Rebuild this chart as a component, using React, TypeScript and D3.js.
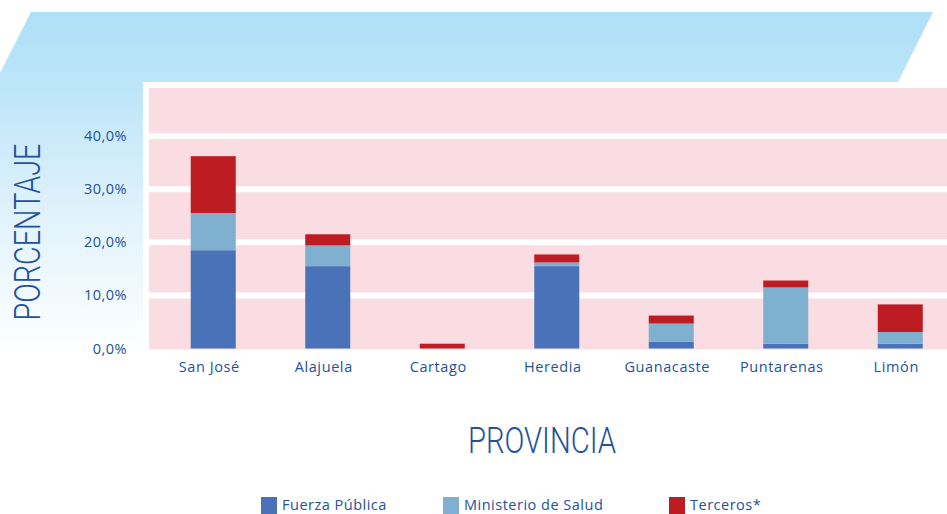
import React from "react";
import * as d3 from "d3";

const categories = ["San José", "Alajuela", "Cartago", "Heredia", "Guanacaste", "Puntarenas", "Limón"];
const fuerzaPublica = [18.5, 15.5, 0, 15.5, 1.3, 0.9, 0.9];
const ministerioSalud = [7.0, 3.9, 0, 0.7, 3.4, 10.6, 2.2];
const terceros = [10.7, 2.1, 0.9, 1.5, 1.5, 1.3, 5.2];
const seriesNames = ["Fuerza Pública", "Ministerio de Salud", "Terceros*"];
const seriesColors = ["#4a72b8", "#7fb0cf", "#bd1c23"];
const yTicks = [0, 10, 20, 30, 40];

const W = 947;
const H = 514;
const TEXT = "#24519b";

export default function App() {
  const x = d3.scaleBand<string>().domain(categories).range([156, 957.5]).paddingInner(0.607).paddingOuter(0.3035);
  const y = d3.scaleLinear().domain([0, 40]).range([348.5, 136]);
  const fmt = (v: number) => d3.format(".1f")(v).replace(".", ",") + "%";

  const rows = categories.map((c, i) => ({
    cat: c,
    fp: fuerzaPublica[i],
    ms: ministerioSalud[i],
    t: terceros[i],
  }));
  const stack = d3.stack<any>().keys(["fp", "ms", "t"])(rows);

  const legendX = [261, 443, 669];

  return (
    <svg width={W} height={H} style={{ position: "absolute", left: 0, top: 0 }} fontFamily="'Open Sans', sans-serif">
      <defs>
        <linearGradient id="bg" gradientUnits="userSpaceOnUse" x1="0" y1="12" x2="0" y2="360">
          <stop offset="0" stopColor="#ade0f7" />
          <stop offset="0.25" stopColor="#c0e6f9" />
          <stop offset="0.6" stopColor="#e2f3fc" />
          <stop offset="1" stopColor="#ffffff" />
        </linearGradient>
      </defs>
      <rect width={W} height={H} fill="#ffffff" />
      <polygon points="31,12 933,12 898,82 143,82 143,360 0,360 0,73" fill="url(#bg)" />
      <rect x={143} y={82} width={W - 143} height={280} fill="#ffffff" />
      <rect x={149} y={88} width={W - 149} height={349.5 - 88} fill="#f9dde2" />
      {yTicks.filter((t) => t > 0).map((t) => (
        <line key={t} x1={149} x2={W} y1={y(t)} y2={y(t)} stroke="#ffffff" strokeWidth={6} />
      ))}
      {stack.map((s, si) => (
        <g key={si} fill={seriesColors[si]}>
          {s.map((d: any, i: number) =>
            d[1] - d[0] > 0 ? (
              <rect key={i} x={x(categories[i])} width={x.bandwidth()} y={y(d[1])} height={y(d[0]) - y(d[1])} />
            ) : null
          )}
        </g>
      ))}
      {yTicks.map((t) => (
        <text key={t} x={127} y={y(t)} dy="0.35em" textAnchor="end" fontSize={14.5} fill={TEXT} letterSpacing={0.5}>
          {fmt(t)}
        </text>
      ))}
      {categories.map((c) => (
        <text key={c} x={(x(c) as number) + x.bandwidth() / 2 - 4} y={372} textAnchor="middle" fontSize={14.5} fill={TEXT} letterSpacing={0.6}>
          {c}
        </text>
      ))}
      <text x={542} y={453} textAnchor="middle" fontSize={36} fontFamily="Roboto, sans-serif" fontWeight={300} fill={TEXT} textLength={148} lengthAdjust="spacingAndGlyphs">
        PROVINCIA
      </text>
      <text transform="translate(40,232) rotate(-90)" textAnchor="middle" fontSize={37} fontFamily="Roboto, sans-serif" fontWeight={300} fill={TEXT} textLength={177} lengthAdjust="spacingAndGlyphs">
        PORCENTAJE
      </text>
      {seriesNames.map((n, i) => (
        <g key={n}>
          <rect x={legendX[i]} y={497} width={16} height={17} fill={seriesColors[i]} />
          <text x={legendX[i] + 21} y={510} fontSize={14.5} fill={TEXT} letterSpacing={0.5}>
            {n}
          </text>
        </g>
      ))}
    </svg>
  );
}
